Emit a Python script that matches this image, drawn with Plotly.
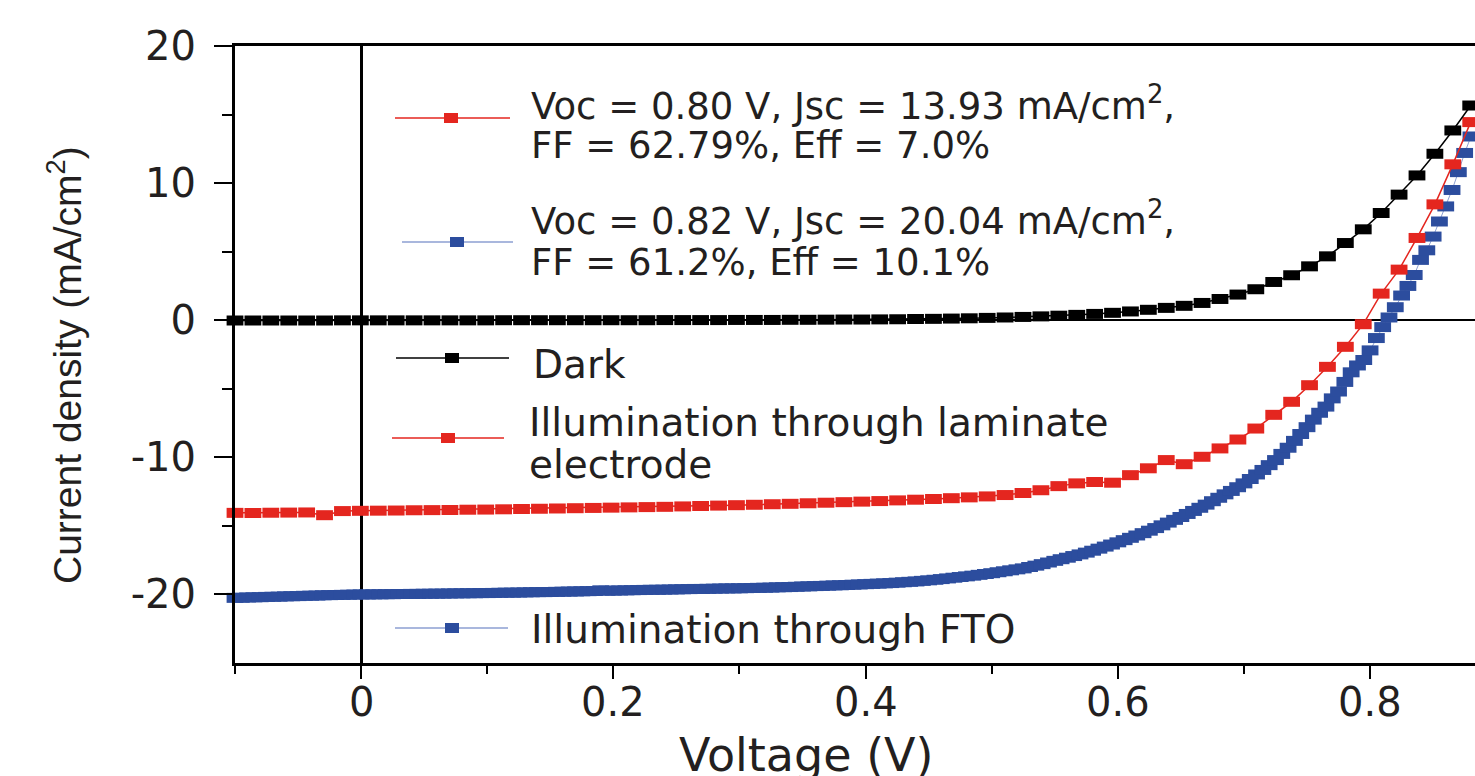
import plotly.graph_objects as go

# ---------------- data ----------------
# voltage sweep shared by the dark and laminate-illuminated curves (V)
V_STEP = [-0.1000, -0.0858, -0.0716, -0.0574, -0.0432, -0.0290, -0.0148, -0.0006, 0.0136, 0.0278,
          0.0420, 0.0562, 0.0704, 0.0846, 0.0988, 0.1130, 0.1272, 0.1414, 0.1556, 0.1698,
          0.1840, 0.1982, 0.2124, 0.2266, 0.2408, 0.2550, 0.2692, 0.2834, 0.2976, 0.3118,
          0.3260, 0.3402, 0.3544, 0.3686, 0.3828, 0.3970, 0.4112, 0.4254, 0.4396, 0.4538,
          0.4680, 0.4822, 0.4964, 0.5106, 0.5248, 0.5390, 0.5532, 0.5674, 0.5816, 0.5958,
          0.6100, 0.6242, 0.6384, 0.6526, 0.6668, 0.6810, 0.6952, 0.7094, 0.7236, 0.7378,
          0.7520, 0.7662, 0.7804, 0.7946, 0.8088, 0.8230, 0.8372, 0.8514, 0.8656, 0.8798]

J_DARK = [-0.02, -0.02, -0.02, -0.02, -0.02, -0.02, -0.01, -0.01, -0.01, -0.01,
          -0.01, -0.01, -0.01, -0.01, -0.01, 0.0, 0.0, 0.0, 0.0, 0.0,
          0.0, 0.0, 0.0, 0.0, 0.01, 0.01, 0.01, 0.01, 0.02, 0.02,
          0.02, 0.03, 0.03, 0.04, 0.05, 0.05, 0.06, 0.07, 0.09, 0.10,
          0.12, 0.14, 0.17, 0.20, 0.24, 0.28, 0.33, 0.39, 0.46, 0.54,
          0.64, 0.76, 0.90, 1.05, 1.26, 1.55, 1.87, 2.26, 2.79, 3.28,
          3.93, 4.66, 5.63, 6.63, 7.82, 9.16, 10.56, 12.14, 13.84, 15.66]

J_LAMINATE = [-14.05, -14.06, -14.04, -14.03, -14.02, -14.22, -13.92, -13.90, -13.89, -13.88,
              -13.86, -13.85, -13.84, -13.82, -13.81, -13.79, -13.77, -13.75, -13.73, -13.71,
              -13.69, -13.67, -13.65, -13.63, -13.61, -13.58, -13.55, -13.52, -13.49, -13.46,
              -13.42, -13.39, -13.35, -13.31, -13.27, -13.23, -13.19, -13.14, -13.09, -13.04,
              -12.98, -12.92, -12.85, -12.75, -12.60, -12.40, -12.10, -11.90, -11.80, -11.85,
              -11.30, -10.80, -10.20, -10.50, -9.96, -9.35, -8.70, -7.90, -6.90, -5.95,
              -4.74, -3.40, -1.94, -0.29, 1.94, 3.69, 6.00, 8.45, 11.37, 14.45]

# finer voltage sweep of the FTO-illuminated curve (V)
V_FTO = [-0.100, -0.095, -0.090, -0.085, -0.080, -0.075, -0.070, -0.065, -0.060, -0.055,
         -0.050, -0.045, -0.040, -0.035, -0.030, -0.025, -0.020, -0.015, -0.010, -0.005,
         0.000, 0.005, 0.010, 0.015, 0.020, 0.025, 0.030, 0.035, 0.040, 0.045,
         0.050, 0.055, 0.060, 0.065, 0.070, 0.075, 0.080, 0.085, 0.090, 0.095,
         0.100, 0.105, 0.110, 0.115, 0.120, 0.125, 0.130, 0.135, 0.140, 0.145,
         0.150, 0.155, 0.160, 0.165, 0.170, 0.175, 0.180, 0.185, 0.190, 0.195,
         0.200, 0.205, 0.210, 0.215, 0.220, 0.225, 0.230, 0.235, 0.240, 0.245,
         0.250, 0.255, 0.260, 0.265, 0.270, 0.275, 0.280, 0.285, 0.290, 0.295,
         0.300, 0.305, 0.310, 0.315, 0.320, 0.325, 0.330, 0.335, 0.340, 0.345,
         0.350, 0.355, 0.360, 0.365, 0.370, 0.375, 0.380, 0.385, 0.390, 0.395,
         0.400, 0.405, 0.410, 0.415, 0.420, 0.425, 0.430, 0.435, 0.440, 0.445,
         0.450, 0.455, 0.460, 0.465, 0.470, 0.475, 0.480, 0.485, 0.490, 0.495,
         0.500, 0.505, 0.510, 0.515, 0.520, 0.525, 0.530, 0.535, 0.540, 0.545,
         0.550, 0.555, 0.560, 0.565, 0.570, 0.575, 0.580, 0.585, 0.590, 0.595,
         0.600, 0.605, 0.610, 0.615, 0.620, 0.625, 0.630, 0.635, 0.640, 0.645,
         0.650, 0.655, 0.660, 0.665, 0.670, 0.675, 0.680, 0.685, 0.690, 0.695,
         0.700, 0.705, 0.710, 0.715, 0.720, 0.725, 0.730, 0.735, 0.740, 0.745,
         0.750, 0.755, 0.760, 0.765, 0.770, 0.775, 0.780, 0.785, 0.790, 0.795,
         0.800, 0.805, 0.810, 0.815, 0.820, 0.825, 0.830, 0.835, 0.840, 0.845,
         0.850, 0.855, 0.860, 0.865, 0.870, 0.875, 0.880]

J_FTO = [-20.25, -20.24, -20.22, -20.21, -20.20, -20.18, -20.17, -20.16, -20.14, -20.13,
         -20.12, -20.10, -20.09, -20.08, -20.06, -20.05, -20.04, -20.03, -20.02, -20.01,
         -20.00, -20.00, -19.99, -19.99, -19.98, -19.98, -19.97, -19.97, -19.96, -19.96,
         -19.95, -19.95, -19.94, -19.94, -19.93, -19.92, -19.92, -19.91, -19.91, -19.90,
         -19.90, -19.89, -19.88, -19.87, -19.87, -19.86, -19.85, -19.84, -19.83, -19.83,
         -19.82, -19.81, -19.80, -19.79, -19.78, -19.77, -19.76, -19.75, -19.70, -19.73,
         -19.72, -19.71, -19.70, -19.69, -19.68, -19.67, -19.66, -19.66, -19.65, -19.64,
         -19.63, -19.62, -19.61, -19.60, -19.60, -19.59, -19.58, -19.57, -19.56, -19.56,
         -19.55, -19.54, -19.53, -19.52, -19.51, -19.50, -19.48, -19.47, -19.46, -19.44,
         -19.42, -19.41, -19.39, -19.38, -19.36, -19.34, -19.33, -19.31, -19.29, -19.27,
         -19.25, -19.23, -19.21, -19.19, -19.17, -19.14, -19.11, -19.08, -19.05, -19.01,
         -18.97, -18.93, -18.88, -18.83, -18.78, -18.73, -18.68, -18.63, -18.57, -18.51,
         -18.45, -18.38, -18.31, -18.24, -18.17, -18.10, -18.00, -17.90, -17.79, -17.67,
         -17.55, -17.43, -17.32, -17.20, -17.08, -16.95, -16.81, -16.66, -16.51, -16.36,
         -16.20, -16.04, -15.87, -15.70, -15.53, -15.35, -15.16, -14.96, -14.76, -14.56,
         -14.35, -14.13, -13.91, -13.68, -13.45, -13.20, -12.95, -12.70, -12.45, -12.18,
         -11.90, -11.58, -11.25, -10.92, -10.57, -10.20, -9.75, -9.30, -8.80, -8.30,
         -7.80, -7.25, -6.75, -6.30, -5.70, -5.20, -4.50, -3.80, -3.30, -2.90,
         -2.20, -1.30, -0.50, 0.20, 0.95, 1.80, 2.50, 3.30, 4.40, 5.10,
         6.10, 7.20, 8.30, 9.50, 10.80, 12.20, 13.40]

X_TICKS = [0, 0.2, 0.4, 0.6, 0.8]
X_TICK_LABELS = ["0", "0.2", "0.4", "0.6", "0.8"]
X_MINOR = [-0.1, 0.1, 0.3, 0.5, 0.7]
Y_TICKS = [-20, -10, 0, 10, 20]
Y_TICK_LABELS = ["-20", "-10", "0", "10", "20"]
Y_MINOR = [-15, -5, 5, 15]

LEGEND_LABELS = [
    ["Voc = 0.80 V, Jsc = 13.93 mA/cm<sup>2</sup>,", "FF = 62.79%, Eff = 7.0%"],
    ["Voc = 0.82 V, Jsc = 20.04 mA/cm<sup>2</sup>,", "FF = 61.2%, Eff = 10.1%"],
    ["Dark"],
    ["Illumination through laminate", "electrode"],
    ["Illumination through FTO"],
]
X_TITLE = "Voltage (V)"
Y_TITLE = "Current density (mA/cm<sup>2</sup>)"

# ---------------- styling ----------------
RED = "#e4261f"
BLUE = "#2c4d9e"
BLUE_LINE = "#8c9fd2"
BLACK = "#000000"
TEXT = "#231f20"
SANS = "DejaVu Sans, Verdana, sans-serif"

W, H = 1475, 776
L, R, T, B = 235, 1475, 46, 663
X_RANGE = [-0.1, 0.8832]
Y_RANGE = [-25, 20]


def px(x):
    return (x - L) / (R - L)


def py(y):
    return (B - y) / (B - T)


def rect_marker(color):
    return dict(symbol="line-ew", size=12, color=color, line=dict(width=10, color=color))


fig = go.Figure()
fig.add_trace(go.Scatter(x=V_FTO, y=J_FTO, mode="lines+markers", cliponaxis=False,
                         line=dict(color=BLUE_LINE, width=1), marker=rect_marker(BLUE)))
fig.add_trace(go.Scatter(x=V_STEP, y=J_LAMINATE, mode="lines+markers", cliponaxis=False,
                         line=dict(color=RED, width=1.5), marker=rect_marker(RED)))
fig.add_trace(go.Scatter(x=V_STEP, y=J_DARK, mode="lines+markers", cliponaxis=False,
                         line=dict(color=BLACK, width=1.5), marker=rect_marker(BLACK)))

# ---------------- hand-drawn legend ----------------
samples = [  # (line x0, line x1, y, marker x, marker colour, line colour)
    (395, 510, 118, 451, RED, RED),
    (402, 513, 242, 457, BLUE, BLUE_LINE),
    (396, 509, 358, 452, BLACK, BLACK),
    (392, 504, 438, 448, RED, RED),
    (395, 508, 628, 452, BLUE, BLUE_LINE),
]
shapes = []
for x0, x1, y, mx, mc, lc in samples:
    shapes.append(dict(type="line", xref="paper", yref="paper", x0=px(x0), x1=px(x1),
                       y0=py(y), y1=py(y), line=dict(color=lc, width=1.5)))
    shapes.append(dict(type="rect", xref="paper", yref="paper", x0=px(mx - 7), x1=px(mx + 7),
                       y0=py(y - 5), y1=py(y + 5), fillcolor=mc, line=dict(width=0)))

text_rows = [  # (legend item, line index, x left, y centre, font size)
    (0, 0, 529, 103, 37), (0, 1, 529, 146, 37),
    (1, 0, 529, 219, 37), (1, 1, 529, 262, 37),
    (2, 0, 531, 364, 39),
    (3, 0, 527, 422, 39), (3, 1, 527, 465, 39),
    (4, 0, 529, 629, 39),
]
annotations = []
for item, line, x, y, fs in text_rows:
    annotations.append(dict(text=LEGEND_LABELS[item][line], xref="paper", yref="paper",
                            x=px(x), y=py(y), xanchor="left", yanchor="middle", showarrow=False,
                            font=dict(family=SANS, size=fs, color=TEXT)))

# x tick labels, placed on the data scale of the x axis
for v, lab in zip(X_TICKS, X_TICK_LABELS):
    annotations.append(dict(text=lab, xref="x", yref="paper", x=v, y=py(702),
                            xanchor="center", yanchor="middle", showarrow=False,
                            font=dict(family=SANS, size=40, color=TEXT)))

annotations.append(dict(text=X_TITLE, xref="paper", yref="paper", x=px(806), y=py(755),
                        xanchor="center", yanchor="middle", showarrow=False,
                        font=dict(family=SANS, size=46, color=TEXT)))
annotations.append(dict(text=Y_TITLE, xref="paper", yref="paper", x=px(64), y=py(365),
                        xanchor="center", yanchor="middle", showarrow=False, textangle=-90,
                        font=dict(family="Liberation Sans, Arial, sans-serif", size=39, color=TEXT)))

fig.update_layout(
    width=W, height=H,
    margin=dict(l=L, r=W - R, t=T, b=H - B, pad=0),
    paper_bgcolor="white", plot_bgcolor="white",
    showlegend=False,
    shapes=shapes, annotations=annotations,
    xaxis=dict(range=X_RANGE, showgrid=False,
               showline=True, linecolor=BLACK, linewidth=2.5, mirror=True,
               zeroline=True, zerolinecolor=BLACK, zerolinewidth=2.5,
               ticks="outside", tickmode="array", tickvals=X_TICKS, showticklabels=False,
               ticklen=13, tickwidth=2, tickcolor=BLACK,
               minor=dict(tickmode="array", tickvals=X_MINOR, ticks="outside", ticklen=8,
                          tickwidth=2, tickcolor=BLACK, showgrid=False)),
    yaxis=dict(range=Y_RANGE, showgrid=False,
               showline=True, linecolor=BLACK, linewidth=3, mirror=False,
               zeroline=True, zerolinecolor=BLACK, zerolinewidth=1.5,
               ticks="outside", tickmode="array", tickvals=Y_TICKS, ticktext=Y_TICK_LABELS,
               ticklen=18, tickwidth=2, tickcolor=BLACK, ticklabelstandoff=10,
               tickfont=dict(family=SANS, size=40, color=TEXT),
               minor=dict(tickmode="array", tickvals=Y_MINOR, ticks="outside", ticklen=10,
                          tickwidth=2, tickcolor=BLACK, showgrid=False)),
)

fig.write_html("out.html")
